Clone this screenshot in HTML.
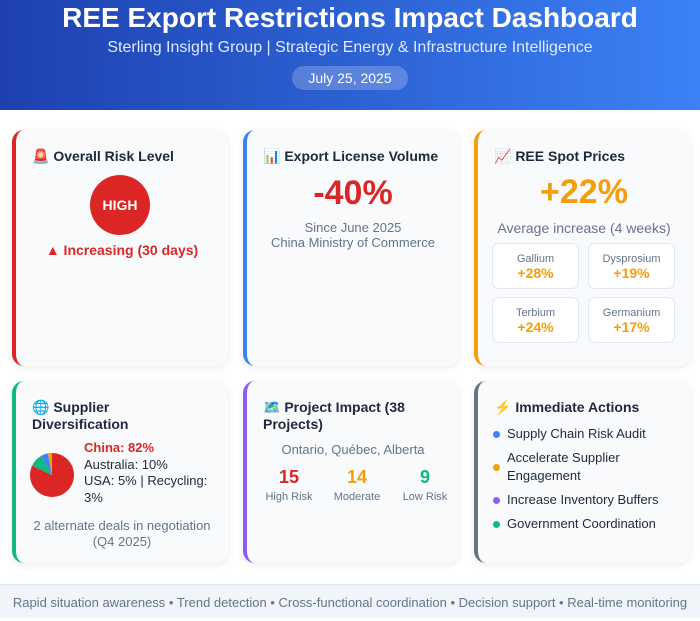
<!DOCTYPE html>
<html><head><meta charset="utf-8"><style>
*{margin:0;padding:0;box-sizing:border-box}
body{width:700px;height:618px;overflow:hidden;background:#fff;font-family:"Liberation Sans",sans-serif;position:relative;color:#1e293b}
.abs{position:absolute}
.hdr{left:0;top:0;width:700px;height:110px;background:linear-gradient(90deg,#1e40af,#3b82f6);color:#fff;text-align:center}
.card{background:#f8fafc;border-radius:12px;box-shadow:0 2px 8px rgba(0,0,0,.08);border-left:4px solid}
.t{font-weight:bold;font-size:14px;color:#1e293b;line-height:17px}
.c{text-align:center}
.box{background:#fff;border:1px solid #e2e8f0;border-radius:7px;text-align:center;font-size:11px;color:#64748b;padding-top:8px;line-height:14px}
.box b{display:block;color:#f59e0b;font-size:14px}
.dot{width:7px;height:7px;border-radius:50%}
.it{font-size:13px;line-height:18px;color:#1e293b}
</style></head><body>
<div class="abs hdr">
 <div class="abs" style="left:0;width:700px;top:2px;font-size:28px;font-weight:bold">REE Export Restrictions Impact Dashboard</div>
 <div class="abs" style="left:0;width:700px;top:39px;font-size:16px;color:#e0eaff">Sterling Insight Group | Strategic Energy &amp; Infrastructure Intelligence</div>
 <div class="abs" style="left:292px;top:66px;width:116px;height:24px;border-radius:12px;background:rgba(255,255,255,.22);font-size:14px;line-height:24px">July 25, 2025</div>
</div>

<div class="abs card" style="left:12px;top:130px;width:216px;height:236px;border-color:#dc2626">
 <div class="abs t" style="left:16px;top:18px">🚨 Overall Risk Level</div>
 <div class="abs" style="left:74px;top:45px;width:60px;height:60px;border-radius:50%;background:#dc2626;color:#fff;font-weight:bold;font-size:14px;line-height:60px;text-align:center">HIGH</div>
 <div class="abs c" style="left:0;width:212px;top:112px;color:#dc2626;font-weight:bold;font-size:14px">▲ Increasing (30 days)</div>
</div>

<div class="abs card" style="left:243px;top:130px;width:216px;height:236px;border-color:#3b82f6">
 <div class="abs t" style="left:16px;top:18px">📊 Export License Volume</div>
 <div class="abs c" style="left:0;width:212px;top:44px;color:#dc2626;font-weight:bold;font-size:34px">-40%</div>
 <div class="abs c" style="left:0;width:212px;top:90px;color:#64748b;font-size:13px;line-height:15px">Since June 2025<br>China Ministry of Commerce</div>
</div>

<div class="abs card" style="left:474px;top:130px;width:216px;height:236px;border-color:#f59e0b">
 <div class="abs t" style="left:16px;top:18px">📈 REE Spot Prices</div>
 <div class="abs c" style="left:0;width:212px;top:43px;color:#f59e0b;font-weight:bold;font-size:34px">+22%</div>
 <div class="abs c" style="left:0;width:212px;top:90px;color:#64748b;font-size:14px">Average increase (4 weeks)</div>
 <div class="abs box" style="left:14px;top:113px;width:87px;height:46px">Gallium<b>+28%</b></div>
 <div class="abs box" style="left:110px;top:113px;width:87px;height:46px">Dysprosium<b>+19%</b></div>
 <div class="abs box" style="left:14px;top:167px;width:87px;height:46px">Terbium<b>+24%</b></div>
 <div class="abs box" style="left:110px;top:167px;width:87px;height:46px">Germanium<b>+17%</b></div>
</div>

<div class="abs card" style="left:12px;top:381px;width:216px;height:182px;border-color:#10b981">
 <div class="abs t" style="left:16px;top:18px;width:150px">🌐 Supplier Diversification</div>
 <svg class="abs" id="pie" style="left:11px;top:69px" width="50" height="50"></svg>
 <div class="abs it" style="left:68px;top:59px;line-height:16.5px;font-size:13px"><span style="color:#dc2626;font-weight:bold">China: 82%</span><br>Australia: 10%<br>USA: 5% | Recycling:<br>3%</div>
 <div class="abs c" style="left:0;width:212px;top:137px;color:#64748b;font-size:13px;line-height:16px">2 alternate deals in negotiation<br>(Q4 2025)</div>
</div>

<div class="abs card" style="left:243px;top:381px;width:216px;height:182px;border-color:#8b5cf6">
 <div class="abs t" style="left:16px;top:18px;width:170px">🗺️ Project Impact (38 Projects)</div>
 <div class="abs c" style="left:0;width:212px;top:61px;color:#64748b;font-size:13px">Ontario, Québec, Alberta</div>
 <div class="abs c" style="left:7px;width:70px;top:86px"><div style="color:#dc2626;font-weight:bold;font-size:18px">15</div><div style="color:#64748b;font-size:11px;margin-top:3px">High Risk</div></div>
 <div class="abs c" style="left:75px;width:70px;top:86px"><div style="color:#f59e0b;font-weight:bold;font-size:18px">14</div><div style="color:#64748b;font-size:11px;margin-top:3px">Moderate</div></div>
 <div class="abs c" style="left:143px;width:70px;top:86px"><div style="color:#10b981;font-weight:bold;font-size:18px">9</div><div style="color:#64748b;font-size:11px;margin-top:3px">Low Risk</div></div>
</div>

<div class="abs card" style="left:474px;top:381px;width:216px;height:182px;border-color:#6b7280">
 <div class="abs t" style="left:16px;top:18px">⚡ Immediate Actions</div>
 <div class="abs dot" style="left:15px;top:50px;background:#3b82f6"></div>
 <div class="abs it" style="left:29px;top:44px">Supply Chain Risk Audit</div>
 <div class="abs dot" style="left:15px;top:83px;background:#f59e0b"></div>
 <div class="abs it" style="left:29px;top:68px;width:150px">Accelerate Supplier Engagement</div>
 <div class="abs dot" style="left:15px;top:116px;background:#8b5cf6"></div>
 <div class="abs it" style="left:29px;top:110px">Increase Inventory Buffers</div>
 <div class="abs dot" style="left:15px;top:140px;background:#10b981"></div>
 <div class="abs it" style="left:29px;top:134px">Government Coordination</div>
</div>

<div class="abs" style="left:0;top:584px;width:700px;height:34px;background:#f1f5f9;border-top:1px solid #e2e8f0;text-align:center;font-size:13px;line-height:36px;color:#64748b;white-space:nowrap">Rapid situation awareness • Trend detection • Cross-functional coordination • Decision support • Real-time monitoring</div>

<script>
const pieLabels=["China","Australia","USA","Recycling"];
const pieValues=[82,10,5,3];
const pieColors=["#dc2626","#10b981","#3b82f6","#f59e0b"];
const svg=document.getElementById('pie');
const cx=25,cy=25,r=22;
const total=pieValues.reduce((a,b)=>a+b,0);
let ang=-Math.PI/2;
pieValues.forEach((v,i)=>{
 const a2=ang+v/total*2*Math.PI;
 const x1=cx+r*Math.cos(ang),y1=cy+r*Math.sin(ang),x2=cx+r*Math.cos(a2),y2=cy+r*Math.sin(a2);
 const p=document.createElementNS('http://www.w3.org/2000/svg','path');
 p.setAttribute('d',`M${cx},${cy}L${x1},${y1}A${r},${r} 0 ${a2-ang>Math.PI?1:0} 1 ${x2},${y2}Z`);
 p.setAttribute('fill',pieColors[i]);
 
 
 svg.appendChild(p);
 ang=a2;
});
</script>
</body></html>
